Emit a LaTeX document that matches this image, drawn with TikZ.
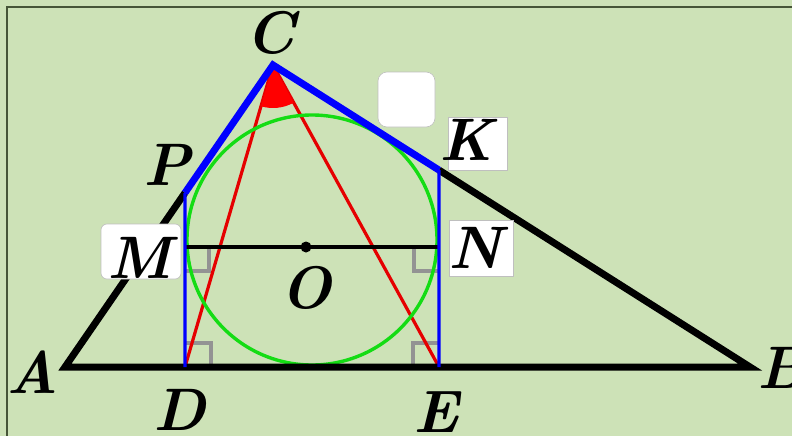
\documentclass[tikz,border=0pt]{standalone}
\usepackage{tikz}
\usetikzlibrary{calc,angles}

\definecolor{paper}{RGB}{205,226,183}
\definecolor{frame}{RGB}{70,85,55}
\definecolor{ringgreen}{RGB}{20,220,20}

\begin{document}
\begin{tikzpicture}[x=1pt, y=-1pt,
  every node/.style={inner sep=0pt},
  lbl/.style={font=\fontsize{60}{60}\selectfont\bfseries\itshape, anchor=base},
  side/.style={line width=7pt, black},
  pent/.style={line width=7pt, blue},
  thinblue/.style={line width=3.2pt, blue},
  cev/.style={line width=3.2pt, red!90!black},
  rmark/.style={line width=3.4pt, gray!85},
  tagbox/.style={draw=gray!50, fill=white, line width=0.6pt},
  blankbox/.style={draw=gray!50, fill=white, line width=0.6pt, rounded corners=9pt},
]

% ── page ──
\fill[paper] (0,0) rectangle (792,436);
\useasboundingbox (0,0) rectangle (792,436);
\draw[frame, line width=1.2pt] (7,436) -- (7,7) -- (792,7);

% ── points ──
\coordinate (A) at (65,367);
\coordinate (B) at (750,367);
\coordinate (C) at (273,65);
\coordinate (D) at (185,367);
\coordinate (E) at (439,367);
\coordinate (P) at ($(A)!{(185-65)/(273-65)}!(C)$);
\coordinate (K) at ($(C)!{(439-273)/(750-273)}!(B)$);
\coordinate (M) at (185,247);
\coordinate (N) at (439,247);
\coordinate (O) at (306,247);
\coordinate (I) at (312,240);

% ── right angle marks ──
\draw[rmark] ($(M)+(0,24)$) -- ($(M)+(24,24)$) -- ($(M)+(24,0)$);
\draw[rmark] ($(N)+(0,24)$) -- ($(N)+(-25,24)$) -- ($(N)+(-25,0)$);
\draw[rmark] ($(D)+(0,-24)$) -- ($(D)+(26,-24)$) -- ($(D)+(26,0)$);
\draw[rmark] ($(E)+(0,-24)$) -- ($(E)+(-26,-24)$) -- ($(E)+(-26,0)$);

% ── cevians and angle at C ──
\draw[cev] (C) -- (D);
\draw[cev] (C) -- (E);
\pic[fill=red, draw=none, angle radius=43pt] {angle=D--C--E};

% ── inscribed circle ──
\draw[ringgreen, line width=3.4pt] (I) circle (125);

% ── mid line ──
\draw[black, line width=3.2pt] (M) -- (N);
\fill (O) circle (5.5);

% ── triangle and pentagon ──
\draw[side, miter limit=20] (P) -- (A) -- (B) -- (K);
\draw[thinblue] (D) -- (P);
\draw[thinblue] (E) -- (K);
\draw[pent, miter limit=20] (P) -- (C) -- (K);

% ── boxes ──
\node[blankbox, minimum width=57pt, minimum height=55pt] (qbox) at (406.5,99.5) {};
\node[tagbox, minimum width=59pt, minimum height=53pt] (kbox) at (477.5,143.5) {};
\node[blankbox, rounded corners=6pt, minimum width=80pt, minimum height=55pt] (mbox) at (141,251.5) {};
\node[tagbox, minimum width=64pt, minimum height=56pt] (nbox) at (481,248) {};

% ── labels ──
\node[lbl] (lC) at (270,53) {C};
\node[lbl] (lP) at (167,185) {P};
\node[lbl] (lA) at (32,393) {A};
\node[lbl] (lD) at (180,430) {D};
\node[lbl] (lE) at (436,432) {E};
\node[lbl] (lB) at (782,388) {B};
\node[lbl] (lO) at (306,308) {O};
\node[lbl] (lK) at (466,160) {K};
\node[lbl] (lM) at (140,278) {M};
\node[lbl] (lN) at (475,268) {N};

\end{tikzpicture}
\end{document}
